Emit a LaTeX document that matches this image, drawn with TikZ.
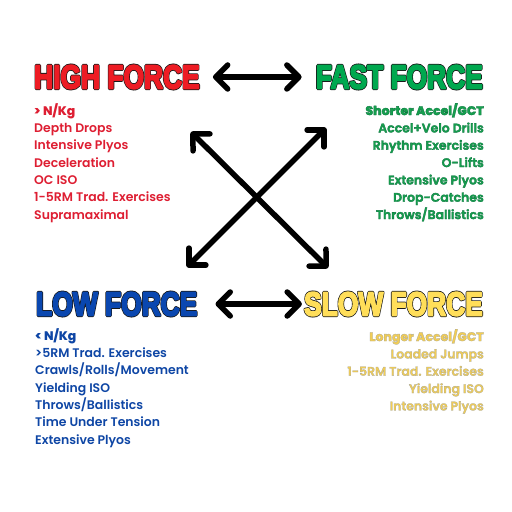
\documentclass[tikz,border=0pt]{standalone}
\usepackage{fontspec}
\setmainfont{Poppins}[UprightFont=* SemiBold, BoldFont=* ExtraBold]
\newfontfamily\headfont{Liberation Sans}[UprightFont=* Bold]
\usetikzlibrary{arrows.meta}

\definecolor{highred}{RGB}{237,28,36}
\definecolor{highbody}{RGB}{222,30,50}
\definecolor{fastgreen}{RGB}{0,168,80}
\definecolor{fastbody}{RGB}{22,160,78}
\definecolor{lowblue}{RGB}{10,72,175}
\definecolor{lowbody}{RGB}{14,70,165}
\definecolor{slowyellow}{RGB}{255,222,89}
\definecolor{slowbody}{RGB}{242,205,85}

% outlined text: stroke colour, stroke width, text
\newcommand{\outlined}[3]{\special{pdf:literal direct #1 RG #2 w 1 j 2 Tr}#3\special{pdf:literal direct 0 Tr}}
% heavy heading: fill colour (pdf rgb), text
\newcommand{\heading}[2]{\scalebox{0.79}[1]{\headfont\fontsize{33.5}{34}\selectfont
    \rlap{\outlined{0.1 0.1 0.1}{3.4}{#2}}\special{pdf:literal direct #1 rg}\outlined{#1}{1.8}{#2}}}

\tikzset{
    head/.style={inner sep=0pt},
    list/.style={inner sep=0pt, font=\fontsize{12.5}{17.4}\selectfont},
    link/.style={line width=5.5bp, <->, >={Straight Barb[length=12bp,width=24bp,round]}},
}

\begin{document}
\begin{tikzpicture}[x=1bp, y=-1bp]
\useasboundingbox[fill=white] (0,0) rectangle (512,512);

% headings
\node[head, anchor=west, text=highred] (high) at (34,77) {\heading{0.93 0.11 0.14}{HIGH FORCE}};
\node[head, anchor=east, text=fastgreen] (fast) at (483,77) {\heading{0 0.66 0.31}{FAST FORCE}};
\node[head, anchor=west, text=lowblue] (low) at (36,304) {\heading{0.04 0.28 0.69}{LOW FORCE}};
\node[head, anchor=east, text=slowyellow] (slow) at (483,304) {\heading{1 0.87 0.35}{SLOW FORCE}};

% lists
\node[list, anchor=north west, align=left, text=highbody] (highlist) at (34,103) {%
    \textbf{> N/Kg}\\
    Depth Drops\\
    Intensive Plyos\\
    Deceleration\\
    OC ISO\\
    1-5RM Trad. Exercises\\
    Supramaximal};
\node[list, anchor=north east, align=right, text=fastbody] (fastlist) at (484,103) {%
    \outlined{0.05 0.45 0.25}{0.3}{\textbf{Shorter Accel/GCT}}\\
    \outlined{0.05 0.45 0.25}{0.3}{Accel+Velo Drills}\\
    \outlined{0.05 0.45 0.25}{0.3}{Rhythm Exercises}\\
    \outlined{0.05 0.45 0.25}{0.3}{O-Lifts}\\
    \outlined{0.05 0.45 0.25}{0.3}{Extensive Plyos}\\
    \outlined{0.05 0.45 0.25}{0.3}{Drop-Catches}\\
    \outlined{0.05 0.45 0.25}{0.3}{Throws/Ballistics}};
\node[list, anchor=north west, align=left, text=lowbody] (lowlist) at (35,328) {%
    \textbf{< N/Kg}\\
    >5RM Trad. Exercises\\
    Crawls/Rolls/Movement\\
    Yielding ISO\\
    Throws/Ballistics\\
    Time Under Tension\\
    Extensive Plyos};
\node[list, anchor=north east, align=right, text=slowbody] (slowlist) at (484,329) {%
    \outlined{0.65 0.65 0.6}{0.25}{\textbf{Longer Accel/GCT}}\\
    \outlined{0.65 0.65 0.6}{0.25}{Loaded Jumps}\\
    \outlined{0.65 0.65 0.6}{0.25}{1-5RM Trad. Exercises}\\
    \outlined{0.65 0.65 0.6}{0.25}{Yielding ISO}\\
    \outlined{0.65 0.65 0.6}{0.25}{Intensive Plyos}};

% arrows
\coordinate (tl) at (191,132);
\coordinate (br) at (328,268);
\coordinate (tr) at (326,128);
\coordinate (bl) at (187,267);
\draw[link, shorten <=13bp, shorten >=14bp] (high.east) -- (fast.west);
\draw[link, shorten <=18bp, shorten >=2bp] (low.east) -- (slow.west);
\draw[link] (tl) -- (br);
\draw[link] (bl) -- (tr);

\end{tikzpicture}
\end{document}
